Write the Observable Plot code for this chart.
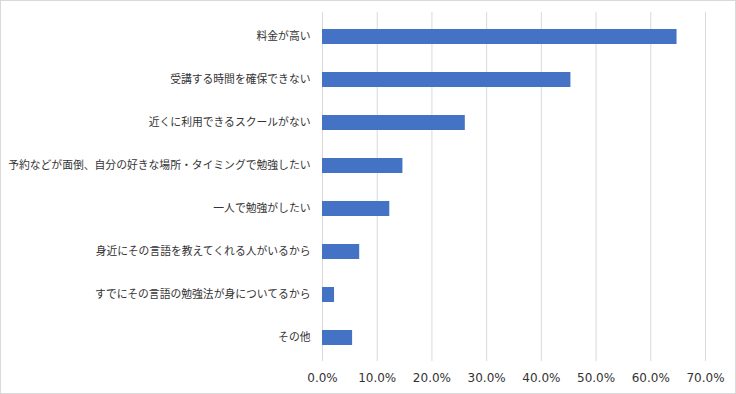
<!DOCTYPE html>
<html>
<head>
<meta charset="utf-8">
<script src="https://cdn.jsdelivr.net/npm/d3@7"></script>
<script src="https://cdn.jsdelivr.net/npm/@observablehq/plot@0.6"></script>
<style>
  html, body { margin: 0; padding: 0; background: #fff; }
  #chart svg { display: block; border: 1px solid #d9d9d9; background: #fff; }
</style>
</head>
<body>
<div id="chart"></div>
<script>
const categories = [
  "料金が高い",
  "受講する時間を確保できない",
  "近くに利用できるスクールがない",
  "予約などが面倒、自分の好きな場所・タイミングで勉強したい",
  "一人で勉強がしたい",
  "身近にその言語を教えてくれる人がいるから",
  "すでにその言語の勉強法が身についてるから",
  "その他"
];
const values = [0.648, 0.454, 0.261, 0.147, 0.123, 0.068, 0.022, 0.055];
const xTicks = [0, 0.1, 0.2, 0.3, 0.4, 0.5, 0.6, 0.7];

const data = categories.map((c, i) => ({category: c, value: values[i]}));

const chart = Plot.plot({
  width: 734,
  height: 392,
  marginLeft: 321,
  marginRight: 30,
  marginTop: 11,
  marginBottom: 32,
  style: {fontFamily: "'Noto Sans CJK JP', 'DejaVu Sans', sans-serif", fontSize: "11px", color: "#333"},
  x: {domain: [0, 0.7], ticks: xTicks, tickFormat: d3.format(".1%"), label: null},
  y: {domain: categories, paddingInner: 0.656, paddingOuter: 0.328, label: null},
  marks: [
    Plot.ruleX(xTicks, {stroke: "#d9d9d9", strokeWidth: 1}),
    Plot.barX(data, {x: "value", y: "category", fill: "#4472c4"}),
    Plot.axisX({ticks: xTicks, tickFormat: d3.format(".1%"), tickSize: 0, tickPadding: 12, fontSize: 12, fontFamily: "'DejaVu Sans', sans-serif", label: null, fill: "#333"}),
    Plot.axisY({tickSize: 0, tickPadding: 12, label: null, fontSize: 10.8, fill: "#333"})
  ]
});
document.getElementById("chart").appendChild(chart);
</script>
</body>
</html>
